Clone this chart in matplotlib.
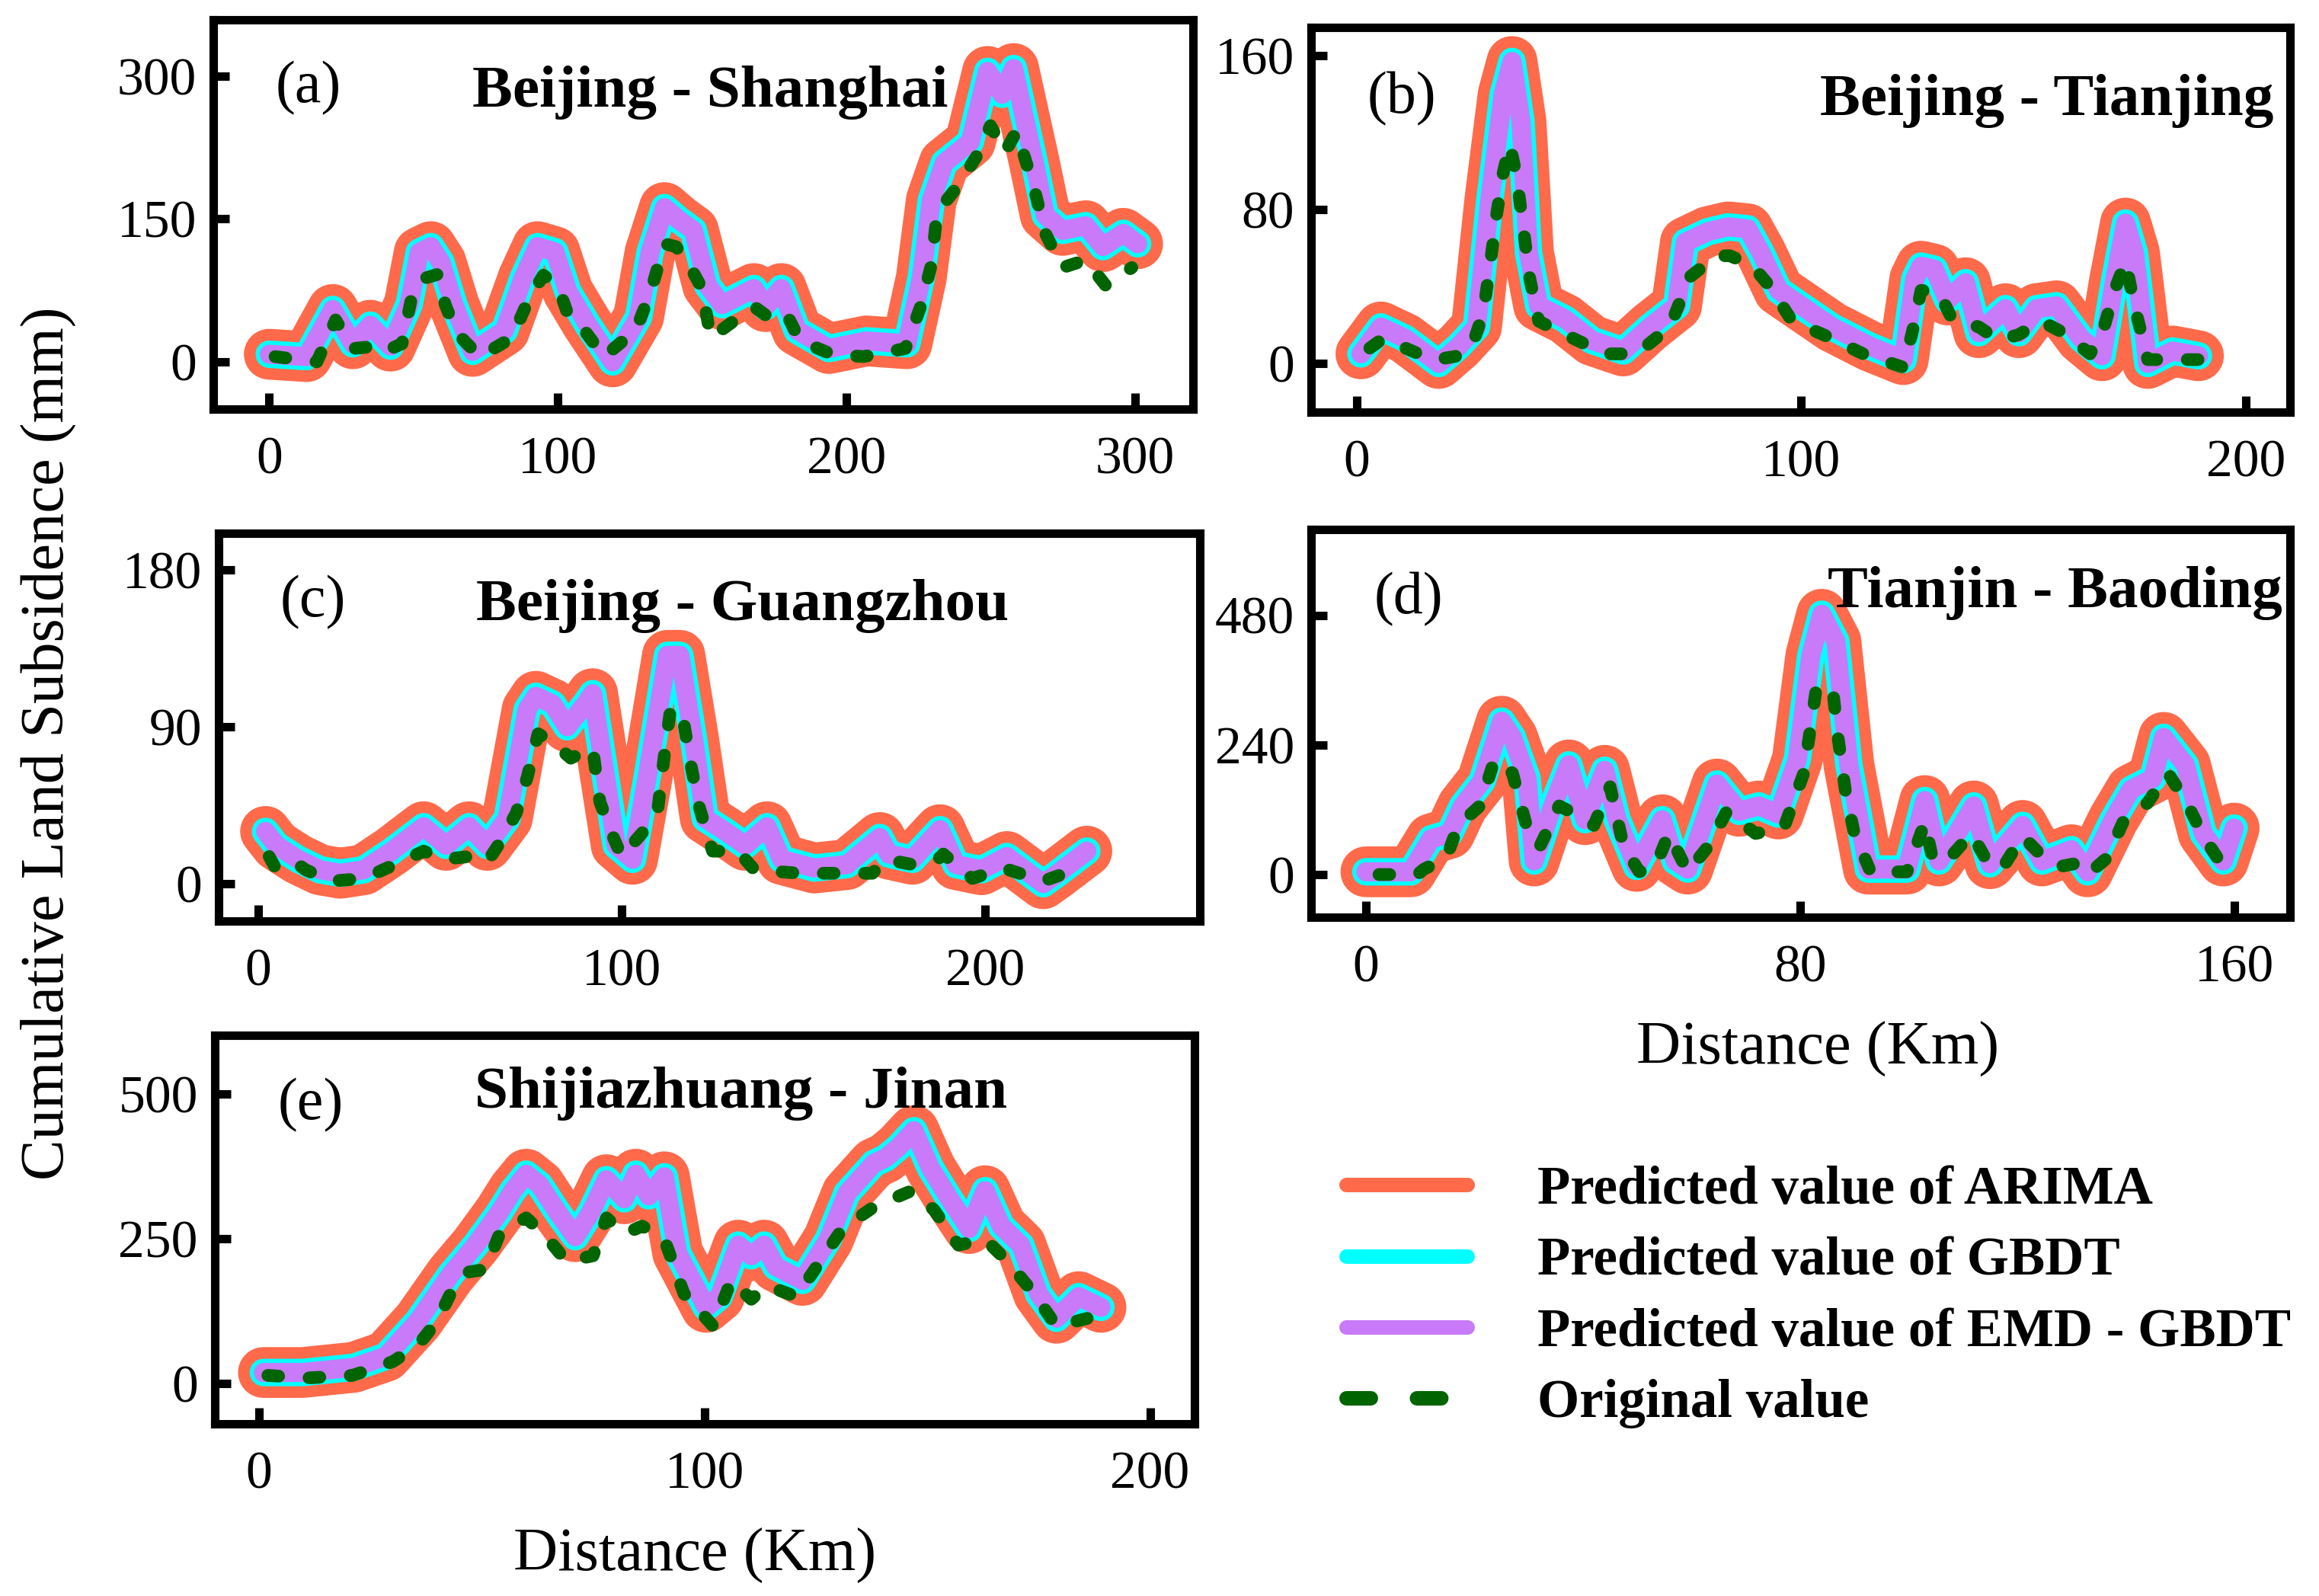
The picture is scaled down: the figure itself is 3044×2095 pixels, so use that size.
import matplotlib
matplotlib.use("Agg")
import matplotlib.pyplot as plt
from matplotlib.lines import Line2D

plt.rcParams['font.family'] = ['Liberation Serif', 'DejaVu Serif']

# ---- data (distance in km, subsidence in mm) ----
# (a) Beijing - Shanghai
xa_orig = [2, 16.5, 23, 29, 37.5, 40, 46, 50, 54, 58.5, 61, 65, 73, 84, 90, 95, 100, 103.5, 108, 116,
           127, 132, 137, 141, 145.5, 150, 153, 159, 168, 173, 179, 184, 195, 206, 220.5, 226, 229.5,
           231.5, 238, 245, 250, 255, 259, 265, 269, 275, 283, 290, 299]
ya_orig = [5.5, 0, 44, 14, 16.5, 11, 19, 77, 88, 92, 60, 30, 5.5, 25, 66, 91, 80, 50, 38, 5.5,
           33, 71.5, 124, 121, 102, 77, 25, 38.5, 58, 47, 52, 22, 8, 5.5, 14, 60, 102,
           157, 182, 215, 248, 220, 242, 184, 135, 99, 107, 80, 99]
xa_pred = [0, 13, 22, 29, 35, 42, 48.5, 52, 56, 59.5, 64, 70.5, 81.5, 88, 93, 99, 103.5, 110, 119,
           128, 132, 137, 142, 147, 152, 157, 168, 172, 177.5, 183, 194, 207, 221, 226, 229.5, 234,
           243, 249, 254, 258, 265, 269, 275, 283, 289, 296, 301]
ya_pred = [8, 5.5, 55, 19, 38.5, 16.5, 60.5, 115, 121, 104.6, 60, 11, 33, 88, 121, 115.6, 74, 41, 0,
           47, 115, 162, 149, 138, 80, 60, 77, 58, 77, 33, 14, 22, 19, 88, 170, 209,
           231, 305, 281, 308, 212, 154, 138, 143, 121, 135, 124]

# (b) Beijing - Tianjing
xb_orig = [3, 6, 14, 18, 23, 26, 28.5, 30, 31.5, 33, 34.5, 36, 37.5, 39, 41, 47, 56, 63, 70.5, 75,
           81, 84, 89, 93, 98, 105, 114, 123, 125, 127, 131, 134, 140, 144.5, 149, 154, 159, 165,
           168, 170.5, 173, 175, 178, 188, 190]
yb_orig = [8, 13, 5, 2, 4, 9, 26, 50, 77, 99, 114, 97.5, 71, 44, 22, 15, 5, 5, 19, 45,
           56, 56, 51, 40, 22, 15, 5, -2, 16, 38, 37, 23, 19, 12, 15, 22, 16, 5,
           17.5, 38, 53, 30, 2, 2, 2]
xb_pred = [1, 5.5, 11, 18.5, 23, 27, 30, 33, 35, 37, 38.7, 41, 47, 53, 60, 66, 72, 74, 79, 83.6,
           88, 91, 95, 101, 107, 115.5, 123, 125.6, 127, 130, 133, 137, 140, 146, 149, 153, 157.5,
           163, 167.7, 170.6, 173, 175, 178, 183.6, 189.4]
yb_pred = [5, 19, 13, 0, 9, 19, 85, 140, 157, 126, 57.5, 30, 23, 12, 6.5, 19, 30, 63, 68.5, 71,
           70, 57.5, 38, 28.5, 19, 9, 2, 44, 50.6, 49, 33, 42, 16, 28.5, 16, 28.5, 30,
           13, 4, 44, 73, 57.5, 0, 6.5, 4]

# (c) Beijing - Guangzhou
xc_orig = [3, 5, 11, 13, 20, 29, 37.6, 45.5, 51, 58, 63, 66, 71, 74, 77, 81, 86, 92, 94, 97, 100,
           106, 110, 112, 113.5, 117, 119, 121.4, 125, 132, 136.5, 149, 159, 169, 172.6, 180, 187,
           188.5, 196.5, 205, 216, 224.7, 228]
yc_orig = [15.6, 8, 11, 8, 1.5, 3, 11, 18.7, 14, 15.6, 12.5, 22, 40.5, 61, 86, 81, 72, 78, 47, 30, 15.6,
           30, 43.6, 78, 101, 93.5, 68.6, 43.6, 18.7, 18.7, 8, 6, 6, 6, 14, 11, 14,
           17, 3, 9, 1.5, 8, 11]
xc_pred = [2, 5, 11, 17, 22.6, 29, 36.7, 45.5, 51.7, 58, 63, 68.5, 74, 76.4, 81, 85, 90, 92, 95, 98.5,
           103, 107, 112.6, 116, 119.7, 123, 128.5, 134, 140, 144, 153, 162, 171, 173.5, 180, 187.6,
           192, 199, 206, 216, 220, 228]
yc_pred = [30, 22, 14, 8, 6, 8, 18.7, 32.7, 22, 32.7, 22, 37.4, 100, 107.5, 103, 90, 103, 109, 68.6, 22,
           14, 61, 131, 131, 84, 37.4, 30, 22, 32.7, 14, 9, 11, 26.5, 17, 14, 31,
           11, 8, 15.6, 0, 6, 18.7]

# (d) Tianjin - Baoding
xd_orig = [2.4, 9.5, 10.7, 14.8, 17, 21, 23.7, 27, 29.7, 32, 35.6, 38.6, 42, 45, 47.5, 50.4, 53.4,
           55.8, 59.3, 63, 66.5, 71.8, 77, 80.7, 83, 86, 87, 88.4, 90, 93, 99.7, 103, 104.5, 108,
           111.6, 115, 117.5, 121, 125, 128, 130.6, 133, 136.5, 139.5, 144, 147.8, 151.3, 154.3,
           157.3, 160]
yd_orig = [0, 0, 10, 30, 91, 127, 213, 188, 86, 51, 127, 112, 91, 162.5, 51, 5, 15,
           76, 5, 51, 117, 76, 86, 188, 345, 345, 254, 152, 76, 5, 5, 96.5, 25, 35.5,
           76, 15, 15, 71, 30, 15, 20, 0, 30, 96.5, 132, 188, 132, 71,
           25, 51]
xd_pred = [0, 8.3, 12, 15.4, 17.8, 21.4, 25, 27, 29.7, 31, 34.4, 37.4, 40.4, 44, 46.3, 49.9, 54.6,
           57, 59.3, 64.7, 68.8, 72.4, 76, 79.5, 82, 84, 86.6, 89, 92.6, 99.7, 103, 105.6, 108,
           112, 115, 121, 124.6, 130, 133, 137.7, 141, 145, 147, 151, 154.3, 158, 160]
yd_pred = [5, 5, 66, 76, 127, 173, 284, 254, 178, 25, 127, 203, 101.5, 193, 101.5, 15, 101.5,
           25, 10, 167.6, 117, 127, 112, 213, 406, 482, 432, 203, 10, 10, 137, 25, 61,
           127, 20, 91, 25, 46, 5, 101.5, 157.4, 178, 254, 203, 76, 25, 86]

# (e) Shijiazhuang - Jinan
xe_orig = [2, 10.5, 21, 30, 35.7, 40, 43, 47, 50.8, 54, 60, 64.5, 69, 75, 78, 82, 86, 91, 95.4, 102,
           106, 110.5, 114, 120.6, 126, 131, 138, 146.5, 151.5, 157, 163, 168, 174, 179, 186, 188]
ye_orig = [14, 9.4, 14, 37.6, 66, 108, 155, 192.5, 197, 258, 286, 253.5, 211, 220.6, 286, 258, 272, 249,
           155, 98.6, 178, 145.5, 169, 150, 211, 267.6, 305, 333, 300, 239, 249, 211, 155, 98.6,
           112.7, 100]
xe_pred = [1, 9.8, 21.3, 28.5, 35.7, 43, 48.6, 54, 57, 60, 63, 67, 71, 74.5, 78, 82, 84.6, 87.5, 91,
           94, 100.4, 103.3, 107.6, 110.5, 113.4, 116, 122, 127.8, 132, 138, 140.7, 143.6, 147,
           150.8, 155, 159.4, 163, 166.6, 171, 175, 179, 184, 189]
ye_pred = [19, 19, 28, 47, 108, 188, 239, 296, 333, 361.5, 343, 296, 253.5, 296, 352, 319, 361.5, 324,
           357, 225, 131.5, 150, 239, 220.6, 239, 202, 178, 249, 328.6, 380, 389.7, 408.5, 436.6,
           371, 319, 267.6, 333, 272, 239, 155, 112.7, 150, 131.5]

series_labels = ['Predicted value of ARIMA', 'Predicted value of GBDT',
                 'Predicted value of EMD - GBDT', 'Original value']

# ---- style ----
C_ARIMA = '#FF6A4A'
C_GBDT = '#00FFFF'
C_EMD = '#C97AF8'
C_ORIG = '#006400'

W, H = 3044, 2095
fig = plt.figure(figsize=(W / 100, H / 100), dpi=100)


def add_ax(left, top, right, bottom):
    # frame given in pixels of the final image
    return fig.add_axes([left / W, 1 - bottom / H, (right - left) / W, (bottom - top) / H])


panels = [
    dict(frame=(280, 25.6, 1566, 537), x_o=xa_orig, y_o=ya_orig, x_p=xa_pred, y_p=ya_pred,
         xlim=(-19.4, 320.2), ylim=(-49.6, 359.5), xt=[0, 100, 200, 300], yt=[0, 150, 300],
         tag='(a)', tag_xy=(405, 116), title='Beijing - Shanghai', title_xy=(932, 140), ha='center'),
    dict(frame=(1721, 36, 3006, 541), x_o=xb_orig, y_o=yb_orig, x_p=xb_pred, y_p=yb_pred,
         xlim=(-10.2, 210.0), ylim=(-25.3, 174.7), xt=[0, 100, 200], yt=[0, 80, 160],
         tag='(b)', tag_xy=(1840, 130), title='Beijing - Tianjing', title_xy=(2984, 151), ha='right'),
    dict(frame=(287, 700, 1575, 1209), x_o=xc_orig, y_o=yc_orig, x_p=xc_pred, y_p=yc_pred,
         xlim=(-10.9, 259.1), ylim=(-21.4, 201), xt=[0, 100, 200], yt=[0, 90, 180],
         tag='(c)', tag_xy=(411, 791), title='Beijing - Guangzhou', title_xy=(975, 814), ha='center'),
    dict(frame=(1721, 695, 3006, 1203.5), x_o=xd_orig, y_o=yd_orig, x_p=xd_pred, y_p=yd_pred,
         xlim=(-10.1, 170.3), ylim=(-78.4, 639), xt=[0, 80, 160], yt=[0, 240, 480],
         tag='(d)', tag_xy=(1849, 787), title='Tianjin - Baoding', title_xy=(2996, 797), ha='right'),
    dict(frame=(282, 1358.5, 1568, 1868.5), x_o=xe_orig, y_o=ye_orig, x_p=xe_pred, y_p=ye_pred,
         xlim=(-9.9, 210), ylim=(-69, 602), xt=[0, 100, 200], yt=[0, 250, 500],
         tag='(e)', tag_xy=(408, 1451), title='Shijiazhuang - Jinan', title_xy=(973, 1454), ha='center'),
]

axes = []
for p in panels:
    ax = add_ax(*p['frame'])
    ax.plot(p['x_p'], p['y_p'], color=C_ARIMA, lw=48, solid_capstyle='round', solid_joinstyle='round')
    ax.plot(p['x_p'], p['y_p'], color=C_GBDT, lw=26, solid_capstyle='round', solid_joinstyle='round')
    ax.plot(p['x_p'], p['y_p'], color=C_EMD, lw=18, solid_capstyle='round', solid_joinstyle='round')
    ax.plot(p['x_o'], p['y_o'], color=C_ORIG, lw=12, dashes=(0.85, 2.4),
            dash_capstyle='round', dash_joinstyle='round')
    ax.set_xlim(*p['xlim'])
    ax.set_ylim(*p['ylim'])
    ax.set_xticks(p['xt'])
    ax.set_yticks(p['yt'])
    ax.tick_params(axis='both', direction='in', length=15, width=8, labelsize=50)
    ax.tick_params(axis='x', pad=26)
    ax.tick_params(axis='y', pad=16)
    for sp in ax.spines.values():
        sp.set_linewidth(8)
    fig.text(p['tag_xy'][0] / W, 1 - p['tag_xy'][1] / H, p['tag'], fontsize=56,
             ha='center', va='center')
    fig.text(p['title_xy'][0] / W, 1 - p['title_xy'][1] / H, p['title'], fontsize=57,
             fontweight='bold', ha=p['ha'], va='baseline')
    axes.append(ax)

for ax, lx in ((axes[3], 0.5175), (axes[4], 0.49)):
    ax.set_xlabel('Distance (Km)', fontsize=58)
    ax.xaxis.set_label_coords(lx, -0.27)

fig.text(63.5 / W, 1 - 975.5 / H, 'Cumulative Land Subsidence (mm)', fontsize=58,
         rotation=90, ha='center', va='center')

handles = [
    Line2D([], [], color=C_ARIMA, lw=13.7, solid_capstyle='round'),
    Line2D([], [], color=C_GBDT, lw=13.7, solid_capstyle='round'),
    Line2D([], [], color=C_EMD, lw=13.7, solid_capstyle='round'),
    Line2D([], [], color=C_ORIG, lw=13.7, dashes=(1.68, 3.18), dash_capstyle='round'),
]
fig.legend(handles, series_labels, loc='upper left', bbox_to_anchor=(1767 / W, 1 - 1530 / H),
           frameon=False, prop={'weight': 'bold', 'size': 51}, handlelength=2.25,
           handletextpad=1.3, labelspacing=0.4, borderpad=0, borderaxespad=0)

fig.savefig('out.png', dpi=100)
